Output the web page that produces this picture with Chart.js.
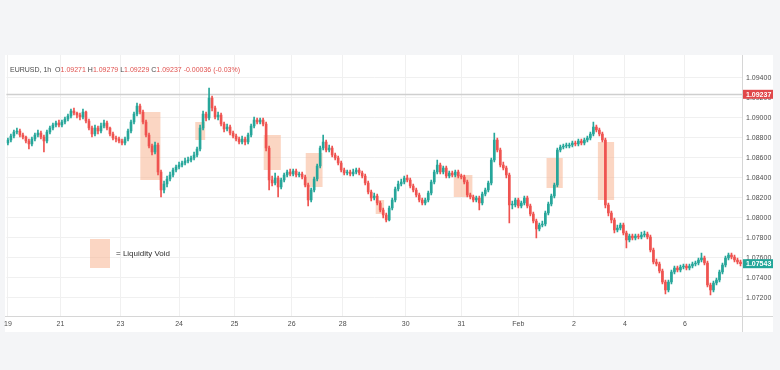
<!DOCTYPE html>
<html>
<head>
<meta charset="utf-8">
<script src="https://cdn.jsdelivr.net/npm/chart.js@4.4.0/dist/chart.umd.min.js"></script>
<style>
  html, body { margin: 0; padding: 0; }
  body { width: 780px; height: 370px; background: #f4f5f7; position: relative; overflow: hidden; font-family: "Liberation Sans", Arial, sans-serif; }
  #panel { position: absolute; left: 5px; top: 55px; width: 768px; height: 277px; background: #fff; }
  #chart { position: absolute; left: 0; top: 0; }
  #header { position: absolute; left: 10px; top: 66px; font-size: 7px; color: #4a4a4a; white-space: pre; z-index: 2; }
  #header .v { color: #e0524f; }
  #legend-box { position: absolute; left: 90px; top: 239px; width: 20px; height: 29px; background: rgba(247,180,145,0.55); z-index: 2; }
  #legend-text { position: absolute; left: 116px; top: 249px; font-size: 8px; color: #2e2e2e; z-index: 2; }
</style>
</head>
<body>
<div id="panel"></div>
<canvas id="chart" width="780" height="370"></canvas>
<div id="header">EURUSD, 1h  O<span class="v">1.09271</span> H<span class="v">1.09279</span> L<span class="v">1.09229</span> C<span class="v">1.09237</span> <span class="v">-0.00036 (-0.03%)</span></div>
<div id="legend-box"></div>
<div id="legend-text">= Liquidity Void</div>
<script>
// EURUSD 1h candles (one entry per candle)
const opens = [
  1.0875,1.0878,1.0882,1.0886,1.0887,1.0883,1.0881,1.0877,1.0874,1.0879,
  1.0883,1.0885,1.0881,1.0877,1.0886,1.0890,1.0893,1.0895,1.0893,1.0896,
  1.0899,1.0902,1.0907,1.0905,1.0903,1.0901,1.0906,1.0897,1.0890,1.0884,
  1.0890,1.0887,1.0892,1.0895,1.0890,1.0884,1.0880,1.0879,1.0877,1.0875,
  1.0879,1.0887,1.0896,1.0904,1.0912,1.0906,1.0896,1.0883,1.0872,1.0866,
  1.0873,1.0846,1.0828,1.0834,1.0839,1.0843,1.0848,1.0851,1.0853,1.0855,
  1.0857,1.0858,1.0860,1.0863,1.0869,1.0890,1.0904,1.0900,1.0920,1.0910,
  1.0901,1.0903,1.0894,1.0889,1.0891,1.0885,1.0882,1.0879,1.0876,1.0879,
  1.0876,1.0883,1.0892,1.0898,1.0896,1.0898,1.0894,1.0870,1.0838,1.0835,
  1.0840,1.0831,1.0838,1.0843,1.0846,1.0844,1.0847,1.0843,1.0844,1.0841,
  1.0833,1.0818,1.0828,1.0839,1.0852,1.0870,1.0876,1.0868,1.0870,1.0863,
  1.0860,1.0855,1.0848,1.0845,1.0846,1.0844,1.0846,1.0848,1.0845,1.0842,
  1.0835,1.0826,1.0820,1.0822,1.0815,1.0808,1.0803,1.0798,1.0810,1.0818,
  1.0829,1.0834,1.0836,1.0840,1.0838,1.0832,1.0828,1.0823,1.0818,1.0815,
  1.0818,1.0825,1.0836,1.0846,1.0853,1.0846,1.0850,1.0842,1.0845,1.0843,
  1.0846,1.0842,1.0841,1.0836,1.0823,1.0821,1.0818,1.0820,1.0815,1.0824,
  1.0828,1.0835,1.0858,1.0878,1.0868,1.0853,1.0850,1.0843,1.0813,1.0813,
  1.0818,1.0812,1.0815,1.0820,1.0812,1.0804,1.0797,1.0789,1.0793,1.0794,
  1.0805,1.0814,1.0822,1.0833,1.0868,1.0871,1.0872,1.0872,1.0873,1.0875,
  1.0874,1.0877,1.0875,1.0878,1.0880,1.0884,1.0891,1.0888,1.0884,1.0878,
  1.0813,1.0805,1.0798,1.0788,1.0790,1.0793,1.0785,1.0778,1.0782,1.0780,
  1.0782,1.0781,1.0783,1.0784,1.0781,1.0768,1.0756,1.0754,1.0747,1.0736,
  1.0728,1.0736,1.0746,1.0750,1.0748,1.0751,1.0752,1.0750,1.0752,1.0754,
  1.0755,1.0758,1.0760,1.0755,1.0733,1.0728,1.0735,1.0738,1.0746,1.0753,
  1.0760,1.0763,1.0761,1.0758,1.0756
];
const highs = [
  1.0880,1.0884,1.0888,1.0890,1.0889,1.0885,1.0882,1.0879,1.0881,1.0885,
  1.0888,1.0887,1.0883,1.0888,1.0892,1.0895,1.0897,1.0898,1.0898,1.0901,
  1.0904,1.0909,1.0910,1.0906,1.0905,1.0909,1.0907,1.0899,1.0892,1.0893,
  1.0892,1.0895,1.0898,1.0897,1.0891,1.0886,1.0882,1.0881,1.0879,1.0881,
  1.0889,1.0898,1.0906,1.0915,1.0914,1.0908,1.0898,1.0885,1.0874,1.0876,
  1.0875,1.0848,1.0837,1.0842,1.0846,1.0850,1.0853,1.0856,1.0857,1.0860,
  1.0861,1.0862,1.0866,1.0871,1.0893,1.0907,1.0906,1.0930,1.0922,1.0912,
  1.0906,1.0905,1.0896,1.0894,1.0893,1.0887,1.0884,1.0881,1.0882,1.0881,
  1.0885,1.0894,1.0901,1.0900,1.0900,1.0900,1.0896,1.0872,1.0842,1.0845,
  1.0842,1.0840,1.0845,1.0848,1.0849,1.0849,1.0849,1.0846,1.0846,1.0843,
  1.0835,1.0830,1.0841,1.0854,1.0872,1.0883,1.0878,1.0873,1.0872,1.0865,
  1.0862,1.0857,1.0850,1.0848,1.0848,1.0849,1.0850,1.0850,1.0847,1.0844,
  1.0837,1.0828,1.0825,1.0824,1.0817,1.0810,1.0805,1.0812,1.0820,1.0831,
  1.0837,1.0839,1.0842,1.0843,1.0840,1.0834,1.0830,1.0825,1.0820,1.0820,
  1.0827,1.0838,1.0848,1.0858,1.0855,1.0852,1.0852,1.0847,1.0847,1.0848,
  1.0848,1.0844,1.0843,1.0838,1.0825,1.0823,1.0822,1.0822,1.0826,1.0830,
  1.0837,1.0860,1.0885,1.0880,1.0870,1.0856,1.0852,1.0845,1.0817,1.0820,
  1.0820,1.0817,1.0822,1.0822,1.0814,1.0806,1.0799,1.0795,1.0797,1.0807,
  1.0816,1.0824,1.0835,1.0870,1.0873,1.0874,1.0875,1.0875,1.0877,1.0877,
  1.0879,1.0879,1.0880,1.0882,1.0886,1.0896,1.0893,1.0890,1.0886,1.0880,
  1.0815,1.0807,1.0800,1.0793,1.0795,1.0795,1.0787,1.0784,1.0784,1.0784,
  1.0784,1.0786,1.0787,1.0786,1.0783,1.0770,1.0759,1.0756,1.0749,1.0738,
  1.0738,1.0748,1.0752,1.0752,1.0753,1.0754,1.0754,1.0754,1.0756,1.0757,
  1.0760,1.0765,1.0762,1.0757,1.0735,1.0737,1.0740,1.0748,1.0755,1.0762,
  1.0765,1.0765,1.0763,1.0760,1.0758
];
const lows = [
  1.0873,1.0876,1.0880,1.0884,1.0881,1.0879,1.0875,1.0869,1.0872,1.0877,
  1.0881,1.0879,1.0866,1.0875,1.0884,1.0888,1.0891,1.0891,1.0891,1.0894,
  1.0897,1.0900,1.0903,1.0900,1.0898,1.0899,1.0895,1.0888,1.0881,1.0882,
  1.0884,1.0885,1.0890,1.0888,1.0882,1.0878,1.0876,1.0875,1.0873,1.0873,
  1.0877,1.0885,1.0894,1.0902,1.0904,1.0894,1.0881,1.0870,1.0863,1.0864,
  1.0843,1.0821,1.0825,1.0831,1.0837,1.0841,1.0846,1.0849,1.0851,1.0853,
  1.0855,1.0856,1.0858,1.0861,1.0867,1.0888,1.0897,1.0898,1.0907,1.0899,
  1.0898,1.0892,1.0886,1.0887,1.0883,1.0880,1.0877,1.0874,1.0874,1.0873,
  1.0874,1.0881,1.0890,1.0894,1.0894,1.0892,1.0867,1.0828,1.0832,1.0833,
  1.0821,1.0829,1.0836,1.0841,1.0842,1.0842,1.0841,1.0841,1.0839,1.0831,
  1.0812,1.0816,1.0826,1.0837,1.0850,1.0868,1.0866,1.0866,1.0861,1.0858,
  1.0853,1.0846,1.0843,1.0843,1.0842,1.0842,1.0844,1.0843,1.0840,1.0833,
  1.0824,1.0817,1.0818,1.0813,1.0806,1.0800,1.0796,1.0797,1.0808,1.0816,
  1.0827,1.0832,1.0834,1.0836,1.0830,1.0826,1.0821,1.0816,1.0813,1.0813,
  1.0816,1.0823,1.0834,1.0844,1.0844,1.0844,1.0840,1.0840,1.0841,1.0841,
  1.0840,1.0839,1.0834,1.0821,1.0819,1.0816,1.0816,1.0808,1.0813,1.0822,
  1.0826,1.0833,1.0856,1.0866,1.0851,1.0848,1.0840,1.0795,1.0809,1.0811,
  1.0810,1.0810,1.0813,1.0810,1.0802,1.0795,1.0780,1.0787,1.0791,1.0792,
  1.0803,1.0812,1.0820,1.0831,1.0866,1.0869,1.0870,1.0870,1.0871,1.0872,
  1.0872,1.0873,1.0873,1.0876,1.0878,1.0882,1.0886,1.0882,1.0876,1.0810,
  1.0802,1.0795,1.0785,1.0786,1.0788,1.0783,1.0770,1.0776,1.0778,1.0778,
  1.0779,1.0779,1.0781,1.0779,1.0766,1.0754,1.0752,1.0745,1.0734,1.0724,
  1.0726,1.0734,1.0744,1.0746,1.0746,1.0749,1.0748,1.0748,1.0750,1.0752,
  1.0753,1.0756,1.0753,1.0731,1.0723,1.0726,1.0733,1.0736,1.0744,1.0751,
  1.0758,1.0759,1.0756,1.0754,1.0752
];
const closes = [
  1.0878,1.0882,1.0886,1.0887,1.0883,1.0881,1.0877,1.0874,1.0879,1.0883,
  1.0885,1.0881,1.0877,1.0886,1.0890,1.0893,1.0895,1.0893,1.0896,1.0899,
  1.0902,1.0907,1.0905,1.0903,1.0901,1.0906,1.0897,1.0890,1.0884,1.0890,
  1.0887,1.0892,1.0895,1.0890,1.0884,1.0880,1.0879,1.0877,1.0875,1.0879,
  1.0887,1.0896,1.0904,1.0912,1.0906,1.0896,1.0883,1.0872,1.0866,1.0873,
  1.0846,1.0828,1.0834,1.0839,1.0843,1.0848,1.0851,1.0853,1.0855,1.0857,
  1.0858,1.0860,1.0863,1.0869,1.0890,1.0904,1.0900,1.0920,1.0910,1.0901,
  1.0903,1.0894,1.0889,1.0891,1.0885,1.0882,1.0879,1.0876,1.0879,1.0876,
  1.0883,1.0892,1.0898,1.0896,1.0898,1.0894,1.0870,1.0838,1.0835,1.0840,
  1.0831,1.0838,1.0843,1.0846,1.0844,1.0847,1.0843,1.0844,1.0841,1.0833,
  1.0818,1.0828,1.0839,1.0852,1.0870,1.0876,1.0868,1.0870,1.0863,1.0860,
  1.0855,1.0848,1.0845,1.0846,1.0844,1.0846,1.0848,1.0845,1.0842,1.0835,
  1.0826,1.0820,1.0822,1.0815,1.0808,1.0803,1.0798,1.0810,1.0818,1.0829,
  1.0834,1.0836,1.0840,1.0838,1.0832,1.0828,1.0823,1.0818,1.0815,1.0818,
  1.0825,1.0836,1.0846,1.0853,1.0846,1.0850,1.0842,1.0845,1.0843,1.0846,
  1.0842,1.0841,1.0836,1.0823,1.0821,1.0818,1.0820,1.0815,1.0824,1.0828,
  1.0835,1.0858,1.0878,1.0868,1.0853,1.0850,1.0843,1.0813,1.0813,1.0818,
  1.0812,1.0815,1.0820,1.0812,1.0804,1.0797,1.0789,1.0793,1.0794,1.0805,
  1.0814,1.0822,1.0833,1.0868,1.0871,1.0872,1.0872,1.0873,1.0875,1.0874,
  1.0877,1.0875,1.0878,1.0880,1.0884,1.0891,1.0888,1.0884,1.0878,1.0813,
  1.0805,1.0798,1.0788,1.0790,1.0793,1.0785,1.0778,1.0782,1.0780,1.0782,
  1.0781,1.0783,1.0784,1.0781,1.0768,1.0756,1.0754,1.0747,1.0736,1.0728,
  1.0736,1.0746,1.0750,1.0748,1.0751,1.0752,1.0750,1.0752,1.0754,1.0755,
  1.0758,1.0760,1.0755,1.0733,1.0728,1.0735,1.0738,1.0746,1.0753,1.0760,
  1.0763,1.0761,1.0758,1.0756,1.07543
];

// date ticks (candle position) and their labels
const dateTickPos  = [0, 17.5, 37.5, 57, 75.5, 94.5, 111.5, 132.5, 151, 170, 188.5, 205.5, 225.5];
const dateTickText = ['19', '21', '23', '24', '25', '26', '28', '30', '31', 'Feb', '2', '4', '6'];

// price ticks
const priceTicks = [1.072, 1.074, 1.076, 1.078, 1.080, 1.082, 1.084, 1.086, 1.088, 1.090, 1.092, 1.094];

// liquidity voids: candle range + price range
const voidFrom = [44.1, 62.4, 85.2, 99.2, 122.5, 148.5, 179.4, 196.5];
const voidTo   = [50.8, 65.7, 90.9, 104.8, 125.3, 154.7, 184.8, 201.9];
const voidHigh = [1.0906, 1.0896, 1.0883, 1.0865, 1.0818, 1.0843, 1.0860, 1.0876];
const voidLow  = [1.0838, 1.0878, 1.0848, 1.0831, 1.0804, 1.0821, 1.0830, 1.0818];

const refPrice = 1.09237;   // grey line + red tag
const lastPrice = 1.07543;  // green tag

const UP = '#26a69a';
const DOWN = '#ef5350';

const candleColors = closes.map((c, i) => c >= opens[i] ? UP : DOWN);
const wickData = lows.map((l, i) => ({ x: i, y: [l, highs[i]] }));
const bodyData = opens.map((o, i) => ({ x: i, y: [o, closes[i]] }));

const overlay = {
    id: 'overlay',
    beforeDatasetsDraw(chart) {
        const { ctx, chartArea, scales } = chart;
        const x = scales.x, y = scales.y;
        ctx.save();
        // reference price line
        const py = Math.round(y.getPixelForValue(refPrice)) + 0.5;
        ctx.strokeStyle = '#cfcfcf';
        ctx.lineWidth = 1.5;
        ctx.beginPath();
        ctx.moveTo(chartArea.left, py);
        ctx.lineTo(chartArea.right, py);
        ctx.stroke();
        // liquidity void boxes
        ctx.fillStyle = 'rgba(247,180,145,0.55)';
        voidFrom.forEach((f, i) => {
            const x1 = x.getPixelForValue(f);
            const x2 = x.getPixelForValue(voidTo[i]);
            const y1 = y.getPixelForValue(voidHigh[i]);
            const y2 = y.getPixelForValue(voidLow[i]);
            ctx.fillRect(x1, y1, x2 - x1, y2 - y1);
        });
        ctx.restore();
    },
    afterDraw(chart) {
        const { ctx, chartArea, scales } = chart;
        const y = scales.y;
        ctx.save();
        // axis borders
        ctx.strokeStyle = '#d6d6d6';
        ctx.lineWidth = 1;
        ctx.beginPath();
        ctx.moveTo(chartArea.right + 0.5, 55);
        ctx.lineTo(chartArea.right + 0.5, 332);
        ctx.moveTo(5, chartArea.bottom + 0.5);
        ctx.lineTo(773, chartArea.bottom + 0.5);
        ctx.stroke();
        // price tags
        ctx.font = 'bold 7px "Liberation Sans", Arial, sans-serif';
        ctx.textBaseline = 'middle';
        [[refPrice, '#e0484a'], [lastPrice, '#22a699']].forEach(([p, col]) => {
            const py = y.getPixelForValue(p);
            ctx.fillStyle = col;
            ctx.fillRect(chartArea.right + 1, py - 4.5, 30, 9);
            ctx.fillStyle = '#fff';
            ctx.fillText(p.toFixed(5), chartArea.right + 4, py + 0.5);
        });
        ctx.restore();
    }
};

const tickFont = { family: '"Liberation Sans", Arial, sans-serif', size: 7 };

new Chart(document.getElementById('chart'), {
    type: 'bar',
    data: {
        datasets: [
            {
                label: 'body',
                data: bodyData,
                backgroundColor: candleColors,
                barThickness: 2,
                minBarLength: 1,
                grouped: false,
                order: 0
            },
            {
                label: 'wick',
                data: wickData,
                backgroundColor: candleColors,
                barThickness: 1,
                grouped: false,
                order: 1
            }
        ]
    },
    options: {
        responsive: false,
        devicePixelRatio: 1,
        animation: false,
        layout: { padding: { left: 5, top: 55, right: 7, bottom: 38 } },
        plugins: {
            legend: { display: false },
            tooltip: { enabled: false }
        },
        scales: {
            x: {
                type: 'linear',
                offset: false,
                min: -0.5,
                max: closes.length - 0.5,
                afterBuildTicks: s => { s.ticks = dateTickPos.map(v => ({ value: v })); },
                afterFit: s => { s.height = 16; },
                ticks: {
                    callback: (v, i) => dateTickText[i],
                    font: tickFont,
                    color: '#4d4d4d',
                    padding: 4,
                    maxRotation: 0,
                    autoSkip: false
                },
                grid: { color: '#f0f0f0', drawTicks: false, offset: false },
                border: { display: false }
            },
            y: {
                position: 'right',
                min: 1.0702,
                max: 1.0963,
                afterBuildTicks: s => { s.ticks = priceTicks.map(v => ({ value: v })); },
                afterFit: s => { s.width = 31; },
                ticks: {
                    callback: v => v.toFixed(5),
                    font: tickFont,
                    color: '#4d4d4d',
                    padding: 4
                },
                grid: { color: '#f0f0f0', drawTicks: false },
                border: { display: false }
            }
        }
    },
    plugins: [overlay]
});
</script>
</body>
</html>
